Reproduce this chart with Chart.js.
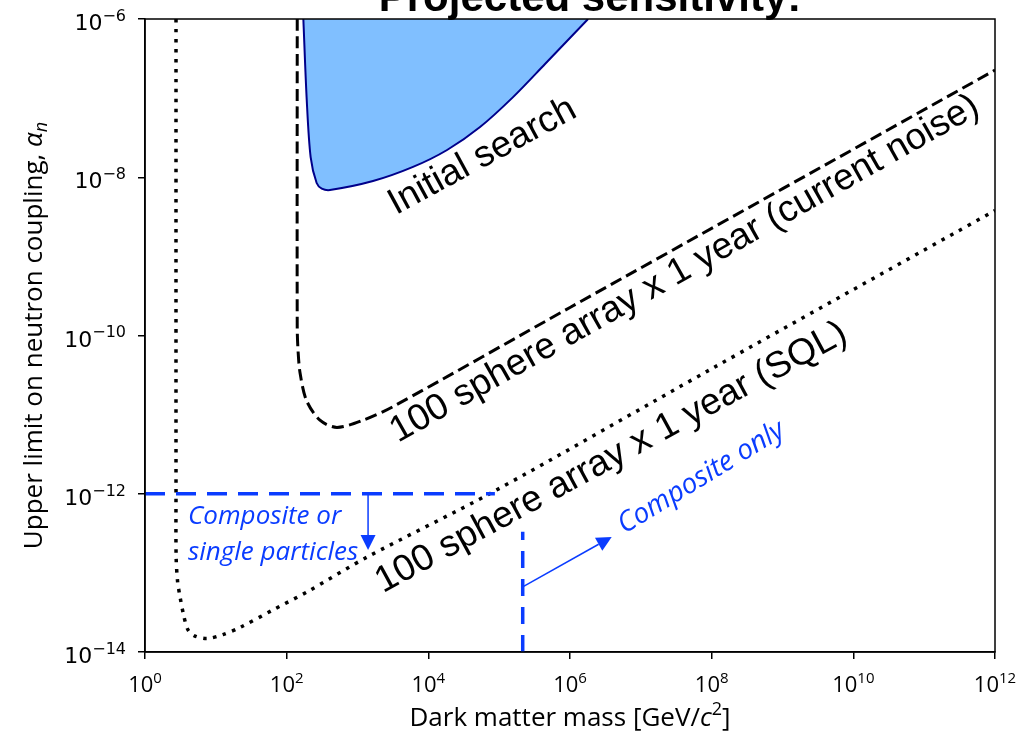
<!DOCTYPE html>
<html>
<head>
<meta charset="utf-8">
<script src="https://cdn.jsdelivr.net/npm/chart.js@4.4.1/dist/chart.umd.min.js"></script>
<style>
  body { margin: 0; background: #fff; }
  #wrap { width: 1033px; height: 733px; }
</style>
</head>
<body>
<div id="wrap"><canvas id="chart" width="1033" height="733"></canvas></div>
<script>
// values: mass in GeV/c^2, coupling alpha_n
const initialMass = [172, 192, 218, 265, 313, 409, 1656, 6080, 1.84e4, 5.37e4, 1.57e5, 4.44e5, 1.8e6];
const initialAlpha = [1e-6, 9.5e-8, 1.8e-8, 8.45e-9, 7.2e-9, 6.9e-9, 8.95e-9, 1.35e-8, 2.21e-8, 4.31e-8, 1.03e-7, 2.7e-7, 1e-6];

const noiseMass = [141, 141, 145, 155, 191, 295, 513, 1200, 3160, 1e6, 1e12];
const noiseAlpha = [1e-6, 1.26e-10, 6.3e-11, 3.3e-11, 1.5e-11, 8.5e-12, 6.9e-12, 8.5e-12, 1.26e-11, 2.26e-10, 2.26e-7];

const sqlMass = [2.74, 2.74, 2.75, 2.88, 3.12, 3.55, 4.05, 5.0, 7.5, 12.6, 21.9, 64, 194, 1360, 8.1e4, 1e8, 1e12];
const sqlAlpha = [1e-6, 1e-12, 1.6e-13, 7.9e-14, 5.0e-14, 2.8e-14, 1.9e-14, 1.6e-14, 1.48e-14, 1.66e-14, 2.04e-14, 3.4e-14, 5.75e-14, 1.58e-13, 1.05e-12, 3.8e-11, 3.8e-9];

const splitMass = [1, 8.7e4];
const splitAlpha = [1e-12, 1e-12];
const compositeMass = [2.15e5, 2.15e5];
const compositeAlpha = [1e-14, 3.3e-13];

// arrows: [mass, alpha] start and tip
const arrowFrom = [[1410, 1e-12], [2.15e5, 6.65e-14]];
const arrowTo = [[1410, 1.94e-13], [3.88e6, 2.85e-13]];

const xTicks = [1, 1e2, 1e4, 1e6, 1e8, 1e10, 1e12];
const xTickExp = ["0", "2", "4", "6", "8", "10", "12"];
const yTicks = [1e-14, 1e-12, 1e-10, 1e-8, 1e-6];
const yTickExp = ["\u221214", "\u221212", "\u221210", "\u22128", "\u22126"];

const labelTexts = [
  "Initial search",
  "100 sphere array x 1 year (current noise)",
  "100 sphere array x 1 year (SQL)",
  "Composite only",
  "Composite or",
  "single particles"
];

const BLUE = "#0a3cff";
const BLACK_FONT = "37px 'Liberation Sans', Arial, sans-serif";
const BLUE_FONT = "italic 26px 'Open Sans', sans-serif";

// where each label sits (mass, alpha at start of baseline) and its angle
const labelPlaces = [
  { x: 3500, y: 3.32e-9, angle: 28.5, font: BLACK_FONT, color: "#000" },
  { x: 3730, y: 4.37e-12, angle: 29.5, font: BLACK_FONT, color: "#000" },
  { x: 2290, y: 5.53e-14, angle: 28.5, font: BLACK_FONT, color: "#000" },
  { x: 5.9e6, y: 3.1e-13, angle: 31.5, font: "italic 28px 'Open Sans', sans-serif", color: BLUE },
  { x: 4.05, y: 4.13e-13, angle: 0, font: BLUE_FONT, color: BLUE },
  { x: 4.05, y: 1.44e-13, angle: 0, font: BLUE_FONT, color: BLUE }
];

function toPoints(xs, ys) {
  return xs.map((x, i) => ({ x: x, y: ys[i] }));
}

// draw a run of differently styled pieces, centred on 0
function drawPieces(ctx, pieces) {
  let total = 0;
  pieces.forEach(p => { ctx.font = p.font; p.w = ctx.measureText(p.text).width; total += p.w; });
  let x = -total / 2;
  pieces.forEach(p => {
    ctx.font = p.font;
    ctx.fillText(p.text, x, p.dy || 0);
    x += p.w;
  });
}

// "10" with a raised exponent
function drawPower(ctx, exp, x, y, align, family, size, expSize) {
  ctx.font = size + "px " + family;
  const wb = ctx.measureText("10").width;
  ctx.font = expSize + "px " + family;
  const we = ctx.measureText(exp).width;
  let left = x;
  if (align === "right") left = x - wb - we;
  if (align === "center") left = x - (wb + we) / 2;
  ctx.font = size + "px " + family;
  ctx.fillText("10", left, y);
  ctx.font = expSize + "px " + family;
  ctx.fillText(exp, left + wb, y - size * 0.42);
}

const annotationPlugin = {
  id: "annotations",
  afterDatasetsDraw(chart) {
    const ctx = chart.ctx;
    const xs = chart.scales.x;
    const ys = chart.scales.y;
    const area = chart.chartArea;

    // arrows
    ctx.save();
    ctx.strokeStyle = BLUE;
    ctx.fillStyle = BLUE;
    ctx.lineWidth = 1.5;
    arrowFrom.forEach((from, i) => {
      const x0 = xs.getPixelForValue(from[0]);
      const y0 = ys.getPixelForValue(from[1]);
      const x1 = xs.getPixelForValue(arrowTo[i][0]);
      const y1 = ys.getPixelForValue(arrowTo[i][1]);
      const a = Math.atan2(y1 - y0, x1 - x0);
      const head = 15, half = 7.5;
      const bx = x1 - head * Math.cos(a);
      const by = y1 - head * Math.sin(a);
      ctx.beginPath();
      ctx.moveTo(x0, y0);
      ctx.lineTo(bx, by);
      ctx.stroke();
      ctx.beginPath();
      ctx.moveTo(x1, y1);
      ctx.lineTo(bx + half * Math.sin(a), by - half * Math.cos(a));
      ctx.lineTo(bx - half * Math.sin(a), by + half * Math.cos(a));
      ctx.closePath();
      ctx.fill();
    });
    ctx.restore();

    // text labels
    labelTexts.forEach((text, i) => {
      const p = labelPlaces[i];
      ctx.save();
      ctx.translate(xs.getPixelForValue(p.x), ys.getPixelForValue(p.y));
      ctx.rotate(-p.angle * Math.PI / 180);
      ctx.font = p.font;
      ctx.fillStyle = p.color;
      ctx.textAlign = "left";
      ctx.textBaseline = "alphabetic";
      ctx.fillText(text, 0, 0);
      ctx.restore();
    });

    // frame round the plot
    ctx.save();
    ctx.strokeStyle = "#000";
    ctx.lineWidth = 1.5;
    ctx.strokeRect(area.left, area.top, area.right - area.left, area.bottom - area.top);
    ctx.restore();

    // tick labels
    ctx.save();
    ctx.fillStyle = "#000";
    ctx.textAlign = "left";
    ctx.textBaseline = "alphabetic";
    xTicks.forEach((v, i) => {
      drawPower(ctx, xTickExp[i], xs.getPixelForValue(v), 692, "center", "'Open Sans', sans-serif", 22, 15);
    });
    yTicks.forEach((v, i) => {
      drawPower(ctx, yTickExp[i], 126, ys.getPixelForValue(v) + 11, "right", "'DejaVu Sans', sans-serif", 22, 16);
    });
    ctx.restore();

    // axis titles
    const titleFont = "26px 'Open Sans', sans-serif";
    const titleItalic = "italic 26px 'Open Sans', sans-serif";
    ctx.save();
    ctx.fillStyle = "#000";
    ctx.textAlign = "left";
    ctx.textBaseline = "alphabetic";
    ctx.translate((area.left + area.right) / 2, 726);
    drawPieces(ctx, [
      { text: "Dark matter mass [GeV/", font: titleFont },
      { text: "c", font: titleItalic },
      { text: "2", font: "18px 'Open Sans', sans-serif", dy: -11 },
      { text: "]", font: titleFont }
    ]);
    ctx.restore();

    ctx.save();
    ctx.fillStyle = "#000";
    ctx.textAlign = "left";
    ctx.textBaseline = "alphabetic";
    ctx.translate(33, (area.top + area.bottom) / 2);
    ctx.rotate(-Math.PI / 2);
    ctx.translate(0, 9);
    drawPieces(ctx, [
      { text: "Upper limit on neutron coupling, ", font: titleFont },
      { text: "\u03b1", font: titleItalic },
      { text: "n", font: "italic 18px 'Open Sans', sans-serif", dy: 5 }
    ]);
    ctx.restore();

    // title, cut off at the top edge
    ctx.save();
    ctx.font = "bold 42px 'Liberation Sans', Arial, sans-serif";
    ctx.fillStyle = "#000";
    ctx.textAlign = "center";
    ctx.textBaseline = "alphabetic";
    ctx.fillText("Projected sensitivity:", 590, 11);
    ctx.restore();
  }
};

function fixWidth(w) {
  return function (scale) {
    scale.width = w;
    scale.paddingTop = 0;
    scale.paddingBottom = 0;
  };
}

function fixHeight(h) {
  return function (scale) {
    scale.height = h;
    scale.paddingLeft = 0;
    scale.paddingRight = 0;
  };
}

function createChart() {
  new Chart("chart", {
    type: "scatter",
    data: {
      datasets: [
        {
          data: toPoints(initialMass, initialAlpha),
          showLine: true,
          fill: "end",
          backgroundColor: "#80bfff",
          borderColor: "#00008b",
          borderWidth: 2,
          tension: 0.3,
          pointRadius: 0,
          order: 5
        },
        {
          data: toPoints(noiseMass, noiseAlpha),
          showLine: true,
          borderColor: "#000",
          borderWidth: 3,
          borderDash: [12, 5.5],
          tension: 0.3,
          pointRadius: 0,
          order: 4
        },
        {
          data: toPoints(sqlMass, sqlAlpha),
          showLine: true,
          borderColor: "#000",
          borderWidth: 3.5,
          borderDash: [3.5, 6.5],
          tension: 0.3,
          pointRadius: 0,
          order: 3
        },
        {
          data: toPoints(splitMass, splitAlpha),
          showLine: true,
          borderColor: BLUE,
          borderWidth: 3.5,
          borderDash: [20, 11],
          pointRadius: 0,
          order: 2
        },
        {
          data: toPoints(compositeMass, compositeAlpha),
          showLine: true,
          borderColor: BLUE,
          borderWidth: 3.5,
          borderDash: [17, 11],
          pointRadius: 0,
          order: 1
        }
      ]
    },
    options: {
      responsive: false,
      animation: false,
      layout: { padding: { top: 19, right: 38, left: 0, bottom: 0 } },
      plugins: {
        legend: { display: false },
        tooltip: { enabled: false }
      },
      scales: {
        x: {
          type: "logarithmic",
          min: 1,
          max: 1e12,
          afterBuildTicks: (scale) => { scale.ticks = xTicks.map(v => ({ value: v })); },
          afterFit: fixHeight(81),
          ticks: { display: false },
          grid: { drawOnChartArea: false, drawTicks: true, tickLength: 7, color: "#000", lineWidth: 1.5 },
          border: { display: true, color: "#000", width: 1.5 }
        },
        y: {
          type: "logarithmic",
          min: 1e-14,
          max: 1e-6,
          afterBuildTicks: (scale) => { scale.ticks = yTicks.map(v => ({ value: v })); },
          afterFit: fixWidth(145),
          ticks: { display: false },
          grid: { drawOnChartArea: false, drawTicks: true, tickLength: 7, color: "#000", lineWidth: 1.5 },
          border: { display: true, color: "#000", width: 1.5 }
        }
      }
    },
    plugins: [annotationPlugin]
  });
}

document.addEventListener("DOMContentLoaded", createChart);
</script>
</body>
</html>
